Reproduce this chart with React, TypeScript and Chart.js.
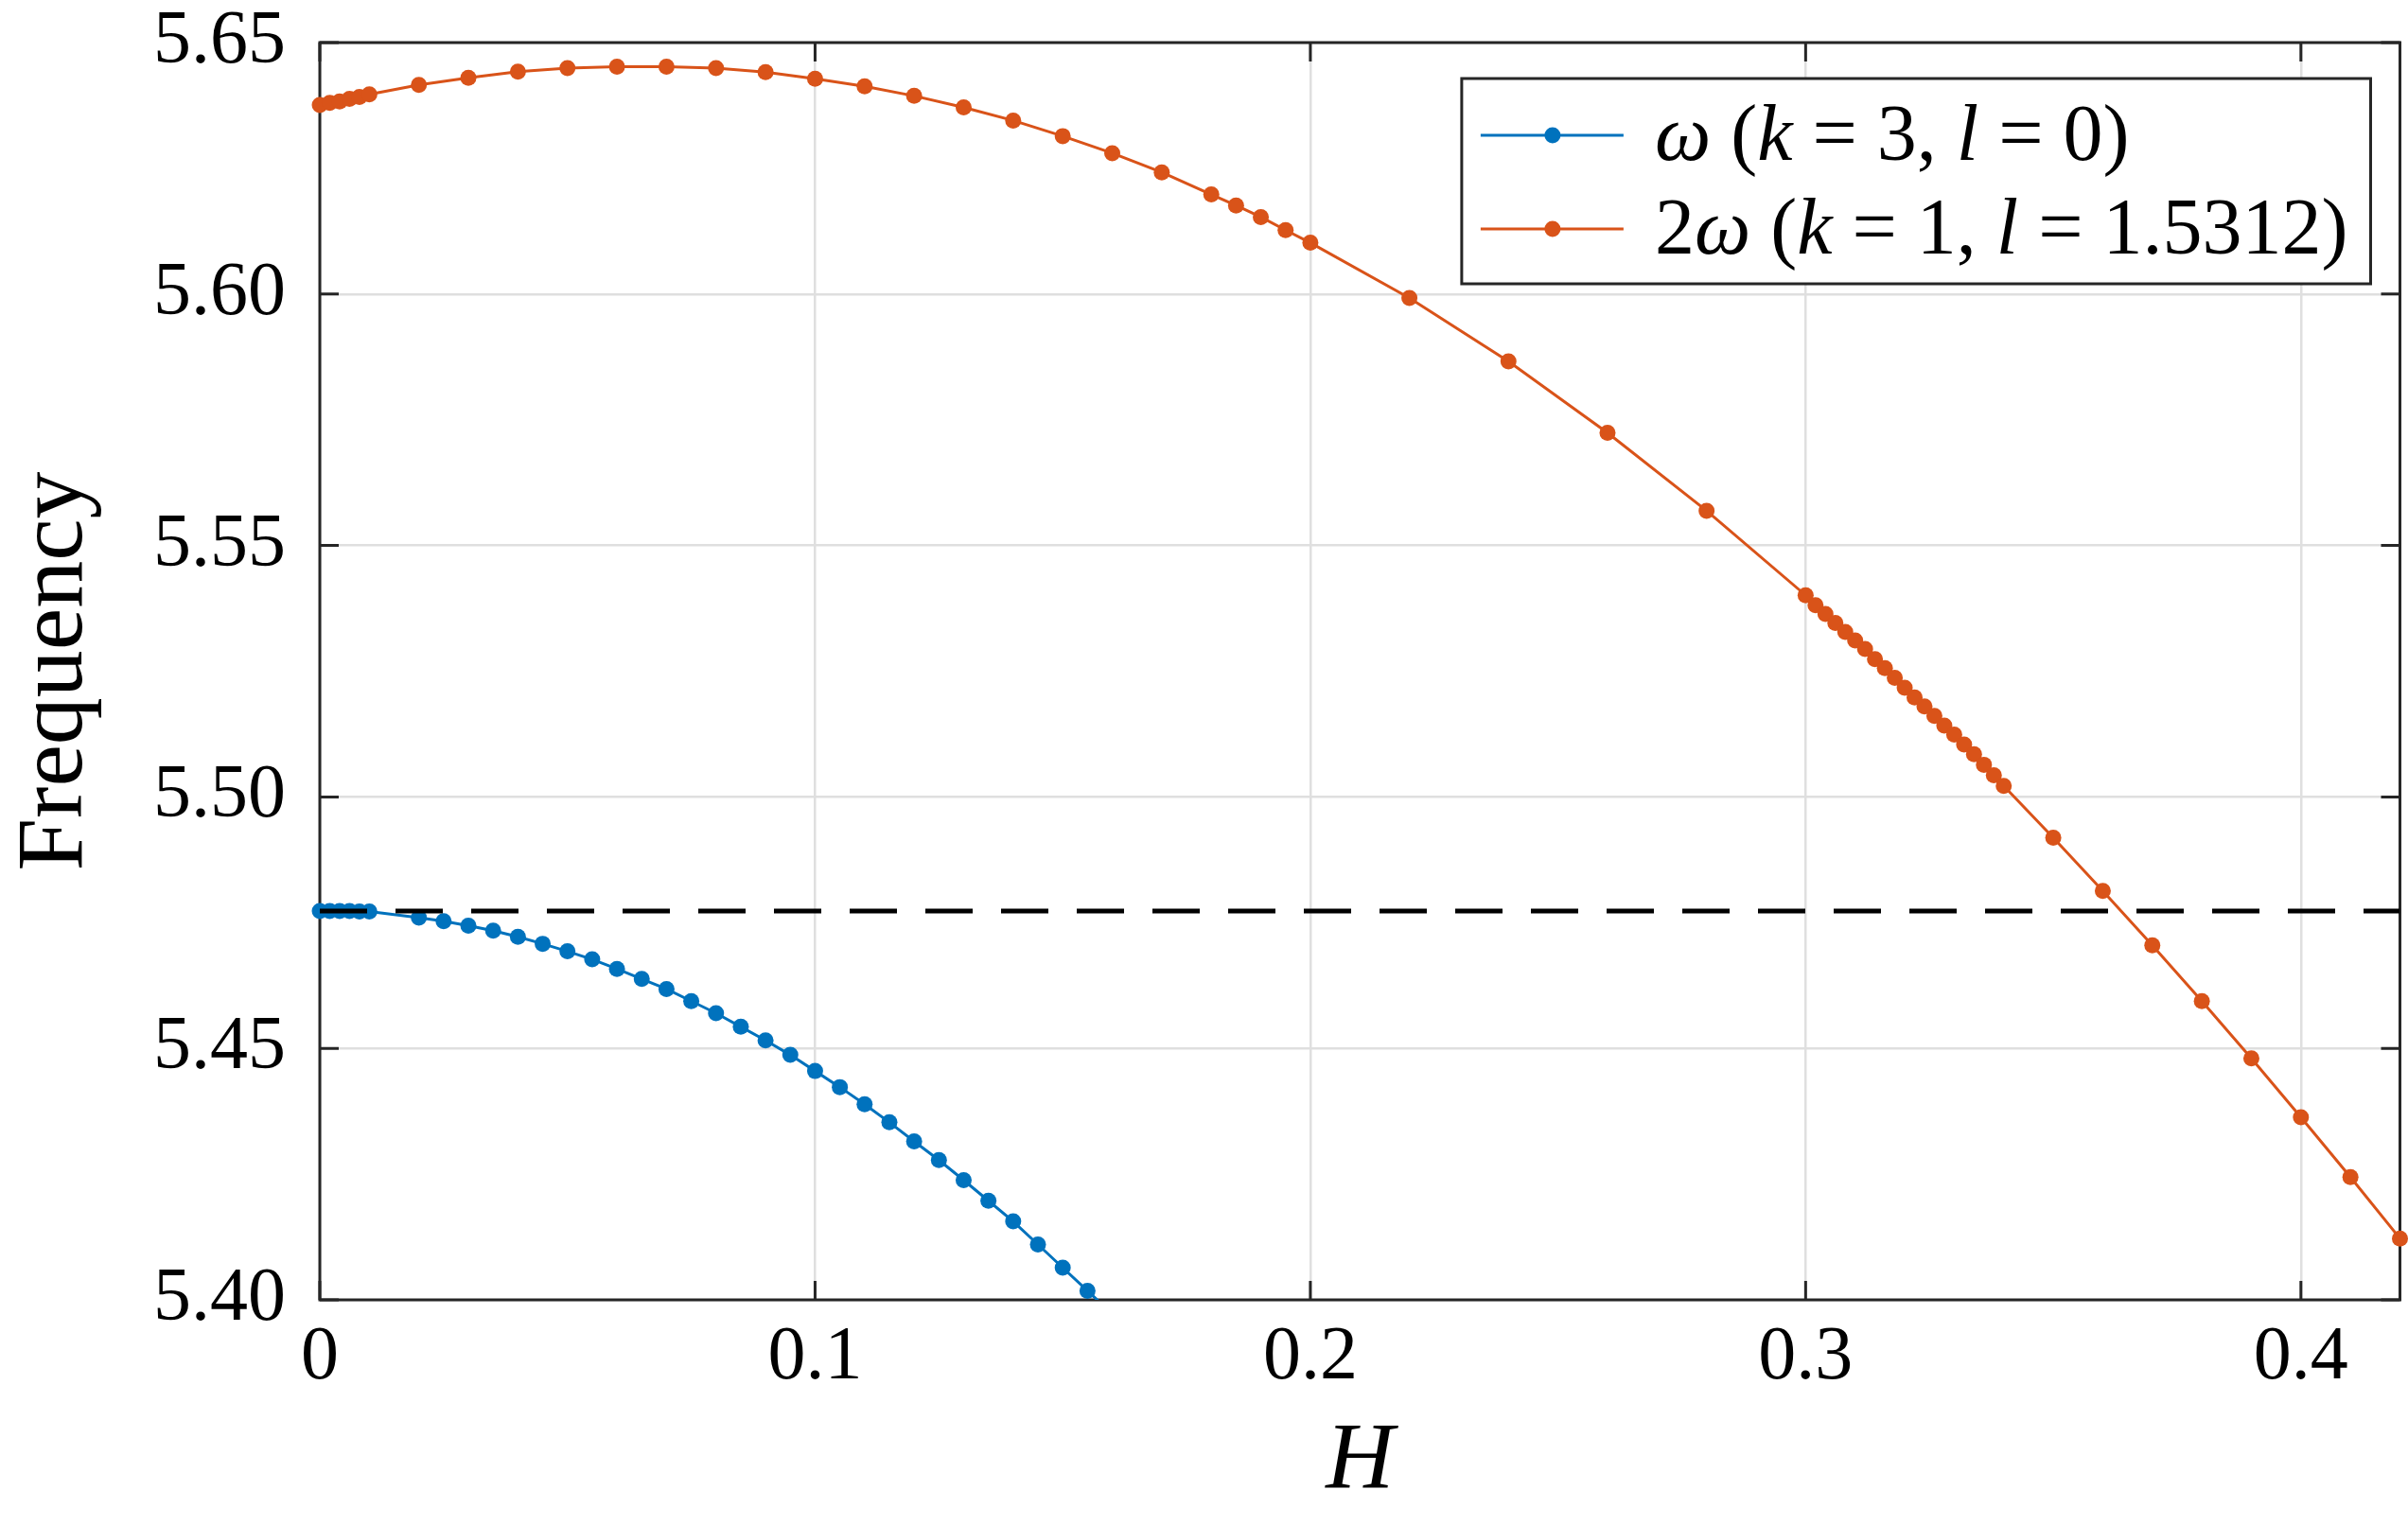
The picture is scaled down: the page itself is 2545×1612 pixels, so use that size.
import { useEffect, useRef } from "react"
import { Chart, registerables } from "chart.js"

Chart.register(...registerables)

// omega (k = 3, l = 0)
const blueH = [
  0, 0.002, 0.004, 0.006, 0.008, 0.01, 0.02, 0.025, 0.03, 0.035, 0.04, 0.045, 0.05, 0.055, 0.06, 0.065, 0.07,
  0.075, 0.08, 0.085, 0.09, 0.095, 0.1, 0.105, 0.11, 0.115, 0.12, 0.125, 0.13, 0.135, 0.14, 0.145, 0.15, 0.155, 0.16,
]
const blueFreq = [
  5.4773, 5.4773, 5.4773, 5.4773, 5.4772, 5.4772, 5.476, 5.4753, 5.4744, 5.4734, 5.4722, 5.4708, 5.4693, 5.4677,
  5.4658, 5.4638, 5.4618, 5.4594, 5.457, 5.4543, 5.4516, 5.4487, 5.4455, 5.4423, 5.4389, 5.4353, 5.4315, 5.4278,
  5.4238, 5.4197, 5.4156, 5.411, 5.4064, 5.4018, 5.3972,
]

// 2 omega (k = 1, l = 1.5312)
const orangeH = [
  0, 0.002, 0.004, 0.006, 0.008, 0.01, 0.02, 0.03, 0.04, 0.05, 0.06, 0.07, 0.08, 0.09, 0.1, 0.11, 0.12, 0.13, 0.14,
  0.15, 0.16, 0.17, 0.18, 0.185, 0.19, 0.195, 0.2, 0.22, 0.24, 0.26, 0.28, 0.3, 0.302, 0.304, 0.306, 0.308, 0.31,
  0.312, 0.314, 0.316, 0.318, 0.32, 0.322, 0.324, 0.326, 0.328, 0.33, 0.332, 0.334, 0.336, 0.338, 0.34, 0.35, 0.36,
  0.37, 0.38, 0.39, 0.4, 0.41, 0.42,
]
const orangeFreq = [
  5.6376, 5.638, 5.6383, 5.6388, 5.6392, 5.6397, 5.6416, 5.643, 5.6442, 5.6449, 5.6452, 5.6452, 5.6449, 5.6441,
  5.6428, 5.6413, 5.6394, 5.6371, 5.6345, 5.6314, 5.628, 5.6242, 5.6198, 5.6176, 5.6153, 5.6127, 5.6102, 5.5992,
  5.5866, 5.5724, 5.5569, 5.5401, 5.5381, 5.5364, 5.5346, 5.5328, 5.5311, 5.5294, 5.5274, 5.5256, 5.5237, 5.5217,
  5.5198, 5.518, 5.5161, 5.5142, 5.5124, 5.5104, 5.5085, 5.5064, 5.5043, 5.5022, 5.4919, 5.4813, 5.4705, 5.4594,
  5.448, 5.4363, 5.4244, 5.4122,
]

// dashed reference level
const refH = [0, 0.42]
const refFreq = [5.4773, 5.4773]

const xTicks = [0, 0.1, 0.2, 0.3, 0.4]
const yTicks = [5.4, 5.45, 5.5, 5.55, 5.6, 5.65]

// legend text, split into [text, italic] pieces
const legendLabels: [string, boolean][][] = [
  [["ω", true], [" (", false], ["k", true], [" = 3, ", false], ["l", true], [" = 0)", false]],
  [["2", false], ["ω", true], [" (", false], ["k", true], [" = 1, ", false], ["l", true], [" = 1.5312)", false]],
]

const BLUE = "#0072BD"
const ORANGE = "#D95319"
const AXIS = "#262626"
const FONT = "'Liberation Serif', 'Times New Roman', serif"

const toPoints = (xs: number[], ys: number[]) => xs.map((x, i) => ({ x, y: ys[i] }))

const boxPlugin = {
  id: "matlabBox",
  beforeDatasetsDraw(chart: any) {
    const { ctx, chartArea: a, scales } = chart
    const tick = 20
    ctx.save()
    ctx.strokeStyle = AXIS
    ctx.lineWidth = 3
    ctx.beginPath()
    xTicks.forEach((v) => {
      const px = scales.x.getPixelForValue(v)
      ctx.moveTo(px, a.bottom)
      ctx.lineTo(px, a.bottom - tick)
      ctx.moveTo(px, a.top)
      ctx.lineTo(px, a.top + tick)
    })
    yTicks.forEach((v) => {
      const py = scales.y.getPixelForValue(v)
      ctx.moveTo(a.left, py)
      ctx.lineTo(a.left + tick, py)
      ctx.moveTo(a.right, py)
      ctx.lineTo(a.right - tick, py)
    })
    ctx.stroke()
    ctx.strokeRect(a.left, a.top, a.right - a.left, a.bottom - a.top)
    ctx.restore()
  },
  afterDraw(chart: any) {
    const { ctx, chartArea: a } = chart
    const size = 84
    const colors = [BLUE, ORANGE]
    ctx.save()
    const widthOf = (parts: [string, boolean][]) =>
      parts.reduce((w, [t, it]) => {
        ctx.font = `${it ? "italic " : ""}${size}px ${FONT}`
        return w + ctx.measureText(t).width
      }, 0)
    const maxW = Math.max(...legendLabels.map(widthOf))
    const boxW = 204 + maxW + 24
    const boxH = 217
    const right = a.right - 31
    const left = right - boxW
    const top = a.top + 38
    ctx.fillStyle = "#ffffff"
    ctx.fillRect(left, top, boxW, boxH)
    ctx.strokeStyle = AXIS
    ctx.lineWidth = 3
    ctx.strokeRect(left, top, boxW, boxH)
    legendLabels.forEach((parts, i) => {
      const cy = top + 60 + i * 99
      ctx.strokeStyle = colors[i]
      ctx.lineWidth = 3
      ctx.beginPath()
      ctx.moveTo(left + 20, cy)
      ctx.lineTo(left + 171, cy)
      ctx.stroke()
      ctx.fillStyle = colors[i]
      ctx.beginPath()
      ctx.arc(left + 96, cy, 8.5, 0, Math.PI * 2)
      ctx.fill()
      ctx.fillStyle = "#000000"
      ctx.textBaseline = "middle"
      ctx.textAlign = "left"
      let x = left + 204
      parts.forEach(([t, it]) => {
        ctx.font = `${it ? "italic " : ""}${size}px ${FONT}`
        ctx.fillText(t, x, cy + 4)
        x += ctx.measureText(t).width
      })
    })
    ctx.restore()
  },
}

export default function App() {
  const chartRef = useRef<HTMLCanvasElement>(null)
  const chartInstance = useRef<Chart | null>(null)

  useEffect(() => {
    document.body.style.margin = "0"
    if (!chartRef.current) return
    if (chartInstance.current) chartInstance.current.destroy()
    const ctx = chartRef.current.getContext("2d")
    if (!ctx) return

    chartInstance.current = new Chart(ctx, {
      type: "line",
      data: {
        datasets: [
          {
            label: "ref",
            data: toPoints(refH, refFreq),
            borderColor: "#000000",
            borderWidth: 5,
            borderDash: [50, 30],
            pointRadius: 0,
            order: 0,
          },
          {
            label: "ω (k = 3, l = 0)",
            data: toPoints(blueH, blueFreq),
            borderColor: BLUE,
            backgroundColor: BLUE,
            borderWidth: 3,
            pointRadius: 8.5,
            pointBorderWidth: 0,
            pointBackgroundColor: BLUE,
            clip: { left: 20, top: 20, right: 20, bottom: 0 },
            order: 1,
          },
          {
            label: "2ω (k = 1, l = 1.5312)",
            data: toPoints(orangeH, orangeFreq),
            borderColor: ORANGE,
            backgroundColor: ORANGE,
            borderWidth: 3,
            pointRadius: 8.5,
            pointBorderWidth: 0,
            pointBackgroundColor: ORANGE,
            clip: false,
            order: 1,
          },
        ],
      },
      options: {
        animation: false,
        responsive: true,
        maintainAspectRatio: false,
        layout: { padding: { top: 45, right: 8, left: 0, bottom: 0 } },
        plugins: { legend: { display: false }, tooltip: { enabled: false } },
        scales: {
          x: {
            type: "linear",
            min: 0,
            max: 0.42,
            afterFit: (s: any) => {
              s.height = 238
              s.paddingLeft = 0
              s.paddingRight = 0
            },
            afterBuildTicks: (s: any) => {
              s.ticks = xTicks.map((v) => ({ value: v }))
            },
            ticks: {
              color: "#000000",
              font: { family: FONT, size: 80 },
              padding: 14,
              maxRotation: 0,
              callback: (v: any) => String(Number(Number(v).toFixed(2))),
            },
            grid: { color: "#dfdfdf", lineWidth: 2.5, drawTicks: false },
            border: { display: false },
            title: {
              display: true,
              text: "H",
              color: "#000000",
              font: { family: FONT, size: 100, style: "italic" },
              padding: { top: 0, bottom: 6 },
            },
          },
          y: {
            type: "linear",
            min: 5.4,
            max: 5.65,
            afterFit: (s: any) => {
              s.width = 338
              s.paddingTop = 0
              s.paddingBottom = 0
            },
            afterBuildTicks: (s: any) => {
              s.ticks = yTicks.map((v) => ({ value: v }))
            },
            ticks: {
              color: "#000000",
              font: { family: FONT, size: 80 },
              padding: 36,
              callback: (v: any) => Number(v).toFixed(2),
            },
            grid: { color: "#dfdfdf", lineWidth: 2.5, drawTicks: false },
            border: { display: false },
            title: {
              display: true,
              text: "Frequency",
              color: "#000000",
              font: { family: FONT, size: 100 },
              padding: { top: 0, bottom: 0 },
            },
          },
        },
      },
      plugins: [boxPlugin],
    })

    return () => {
      if (chartInstance.current) {
        chartInstance.current.destroy()
        chartInstance.current = null
      }
    }
  }, [])

  return (
    <div style={{ width: "2545px", height: "1612px", position: "relative", background: "#ffffff" }}>
      <canvas ref={chartRef} />
    </div>
  )
}
